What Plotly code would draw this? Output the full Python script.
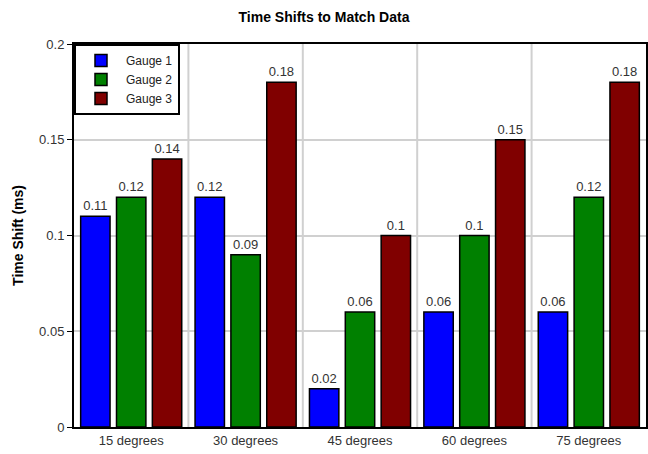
import plotly.graph_objects as go

categories = ["15 degrees", "30 degrees", "45 degrees", "60 degrees", "75 degrees"]
gauge1 = [0.11, 0.12, 0.02, 0.06, 0.06]
gauge2 = [0.12, 0.09, 0.06, 0.10, 0.12]
gauge3 = [0.14, 0.18, 0.10, 0.15, 0.18]
series_names = ["Gauge 1", "Gauge 2", "Gauge 3"]
colors = ["#0000ff", "#008000", "#800000"]

fig = go.Figure()
for name, vals, col in zip(series_names, [gauge1, gauge2, gauge3], colors):
    fig.add_trace(go.Bar(
        x=categories, y=vals, name=name,
        marker=dict(color=col, line=dict(color="black", width=1.5)),
        text=[f"{v:g}" for v in vals], textposition="outside",
        textfont=dict(family="Liberation Sans, Arial", size=13, color="#333333"),
        cliponaxis=False,
    ))

for i in range(1, len(categories)):
    fig.add_shape(type="line", xref="x", yref="paper", x0=i - 0.5, x1=i - 0.5,
                  y0=0, y1=1, line=dict(color="#d0d0d0", width=2), layer="below")

fig.update_layout(
    width=648, height=454,
    margin=dict(l=74, r=2, t=44, b=27),
    paper_bgcolor="white", plot_bgcolor="white",
    font=dict(family="Liberation Sans, Arial", size=13, color="#333333"),
    title=dict(text="<b>Time Shifts to Match Data</b>", x=0.5, xanchor="center",
               y=0.963, yanchor="middle",
               font=dict(size=14, color="black")),
    barmode="group", bargap=0.06, bargroupgap=0.18,
    showlegend=True,
    legend=dict(x=0, y=1, xanchor="left", yanchor="top",
                bgcolor="white", bordercolor="black", borderwidth=2,
                font=dict(size=12, color="#222222"),
                itemwidth=40, tracegroupgap=0, traceorder="normal"),
    xaxis=dict(showline=True, linecolor="black", linewidth=2, mirror=True,
               showgrid=False, ticks="", automargin=False,
               tickfont=dict(size=13, color="#333333")),
    yaxis=dict(range=[0, 0.2], dtick=0.05, showline=True, linecolor="black",
               linewidth=2, mirror=True, showgrid=True, gridcolor="#d0d0d0",
               gridwidth=2, ticks="outside", ticklen=5, tickcolor="black",
               zeroline=False, automargin=False,
               title=dict(text="<b>Time Shift (ms)</b>", font=dict(size=14, color="black"),
                          standoff=12)),
)

fig.write_html("out.html", config={"displayModeBar": False},
               post_script="document.body.style.margin='0';")
